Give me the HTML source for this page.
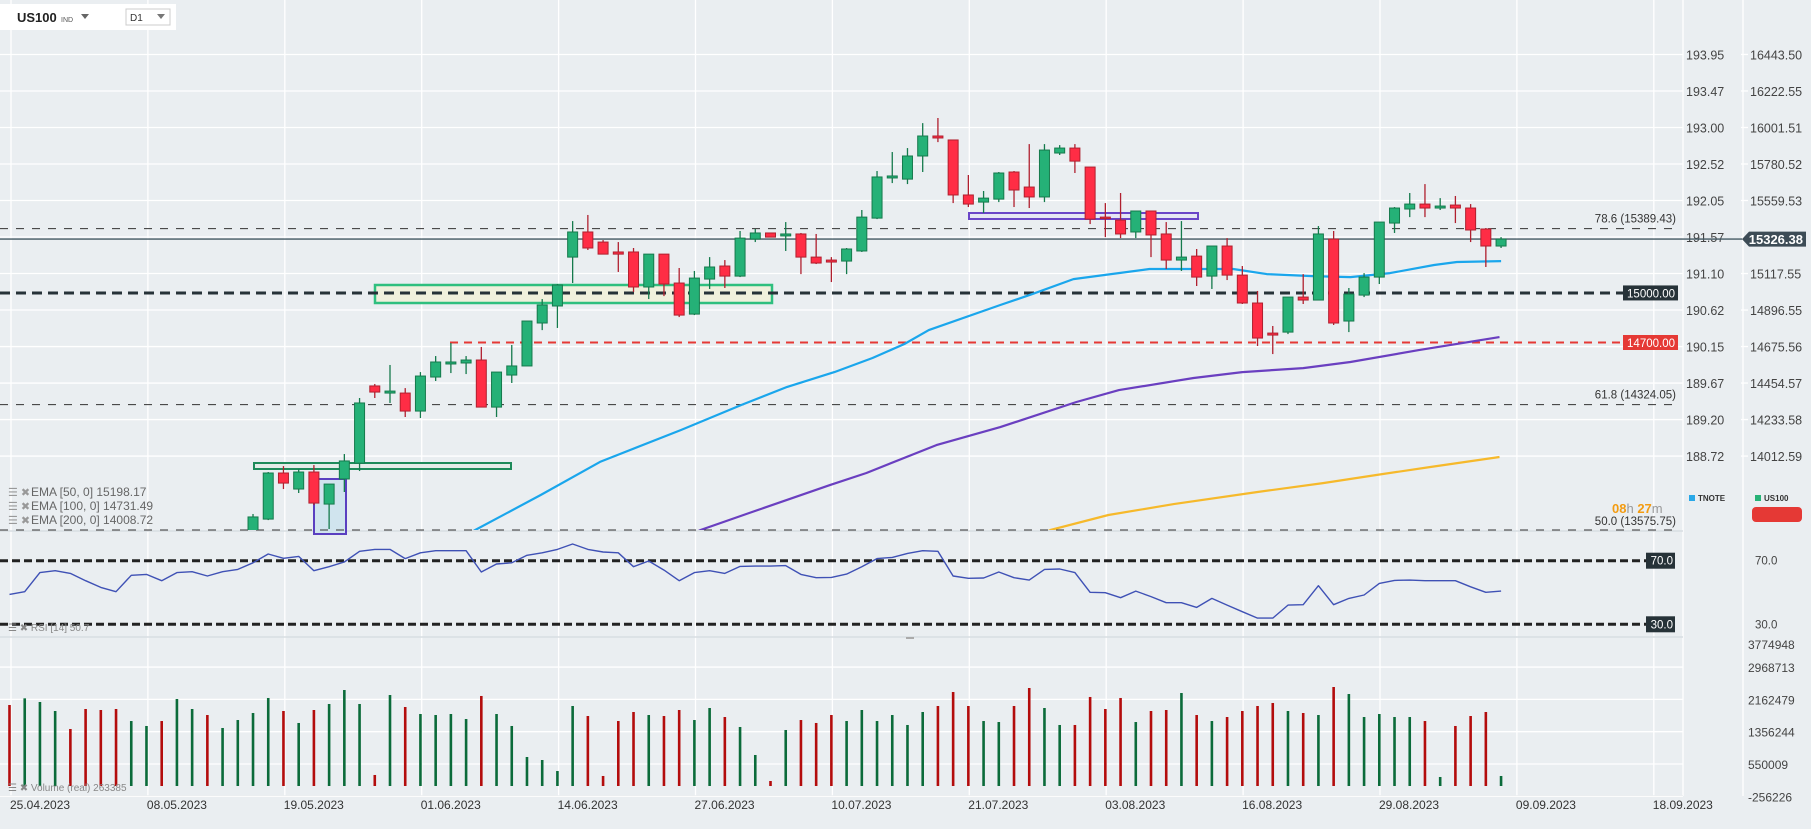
<!DOCTYPE html>
<html><head><meta charset="utf-8"><style>
html,body{margin:0;padding:0;background:#eaeef1;}
svg{display:block;font-family:"Liberation Sans",sans-serif;}
</style></head><body>
<svg id="chart" width="1811" height="829" viewBox="0 0 1811 829">
<rect x="0" y="0" width="1811" height="829" fill="#eaeef1"/>
<defs>
<clipPath id="mainClip"><rect x="0" y="0" width="1683" height="530"/></clipPath>
<clipPath id="rsiClip"><rect x="0" y="532" width="1683" height="104"/></clipPath>
</defs>
<g id="grid"></g>
<g id="levels"></g>
<g id="main" clip-path="url(#mainClip)"></g>
<g id="rsi" clip-path="url(#rsiClip)"></g>
<g id="vol"></g>
<g id="axes"></g>

<!-- header -->
<rect x="0" y="4" width="176" height="26" fill="#ffffff"/>
<text x="17" y="22" font-size="13" font-weight="bold" fill="#222">US100</text>
<text x="61" y="22" font-size="7" fill="#555">IND</text>
<path d="M81 14 L89 14 L85 19 Z" fill="#666"/>
<rect x="126" y="9" width="44" height="16" fill="#fff" stroke="#ccc"/>
<text x="130" y="21" font-size="10" fill="#333">D1</text>
<path d="M157 14 L165 14 L161 19 Z" fill="#777"/>

<!-- EMA legend -->
<g font-size="12" fill="#666">
<text x="8" y="496" fill="#999" font-size="11">☰ ✖</text>
<text x="31" y="496">EMA [50,  0] 15198.17</text>
<text x="8" y="510" fill="#999" font-size="11">☰ ✖</text>
<text x="31" y="510">EMA [100,  0] 14731.49</text>
<text x="8" y="524" fill="#999" font-size="11">☰ ✖</text>
<text x="31" y="524">EMA [200,  0] 14008.72</text>
</g>
<text x="8" y="631" font-size="10" fill="#888">☰ ✖ RSI [14] 50.7</text>
<text x="8" y="791" font-size="10" fill="#888">☰ ✖ Volume (real) 263385</text>

<!-- timer and symbols -->
<text x="1612" y="513" font-size="13"><tspan fill="#f39c12" font-weight="bold">08</tspan><tspan fill="#999">h </tspan><tspan fill="#f39c12" font-weight="bold">27</tspan><tspan fill="#999">m</tspan></text>
<rect x="1689" y="495" width="6" height="6" fill="#29a8e8"/>
<text x="1698" y="501" font-size="8" font-weight="bold" fill="#333">TNOTE</text>
<rect x="1755" y="495" width="6" height="6" fill="#26b276"/>
<text x="1764" y="501" font-size="8" font-weight="bold" fill="#333">US100</text>
<rect x="1752" y="507" width="50" height="15" rx="4" fill="#e53935"/>

<script>
// ---------- data ----------
const firstCandle = 16;
const opens  = [13474,13631,13910,13813,13916,13722,13874,13970,14437,14394,14394,14285,14491,14570,14576,14594,14309,14503,14558,14818,14921,15217,15369,15308,15248,15248,15036,15235,15060,14872,15084,15163,15102,15326,15363,15345,15357,15217,15199,15193,15254,15453,15696,15689,15829,15950,15926,15593,15550,15568,15732,15641,15581,15847,15877,15762,15459,15441,15369,15496,15357,15199,15223,15102,15284,15108,14939,14757,14763,14975,14957,15326,14830,14987,15096,15423,15508,15538,15514,15532,15514,15387,15284];
const highs  = [13662,13916,13952,13934,13958,13843,14025,14364,14449,14564,14424,14521,14618,14697,14618,14673,14521,14685,14830,14963,15054,15435,15472,15320,15308,15272,15235,15235,15151,15133,15217,15199,15375,15387,15363,15429,15363,15357,15217,15272,15502,15738,15853,15877,16028,16059,15926,15714,15617,15732,15738,15901,15901,15895,15901,15762,15544,15605,15496,15496,15429,15435,15266,15284,15332,15163,15012,14800,14975,15114,15405,15375,15030,15120,15429,15520,15605,15659,15574,15587,15538,15393,15338];
const lows   = [13444,13625,13813,13789,13716,13571,13795,13922,14364,14334,14249,14243,14467,14515,14509,14309,14249,14455,14558,14775,14788,15060,15260,15235,15127,15006,14963,14981,14854,14866,15024,15030,15096,15308,15338,15254,15114,15175,15066,15114,15248,15447,15665,15659,15732,15913,15544,15520,15484,15550,15520,15514,15550,15835,15726,15417,15338,15332,15332,15217,15145,15133,15042,15024,15078,14933,14679,14630,14751,14933,14957,14806,14763,14975,15054,15363,15459,15459,15502,15423,15308,15157,15272];
const closes = [13644,13910,13849,13916,13728,13843,13983,14334,14400,14406,14285,14497,14582,14582,14594,14309,14521,14558,14830,14927,15048,15369,15272,15235,15235,15036,15235,15054,14866,15090,15157,15102,15332,15363,15338,15357,15217,15181,15187,15266,15459,15702,15708,15829,15950,15938,15593,15538,15574,15726,15623,15581,15865,15877,15798,15447,15453,15357,15496,15351,15199,15217,15096,15284,15108,14939,14727,14745,14975,14957,15357,14818,14993,15096,15429,15514,15538,15514,15526,15514,15381,15284,15326];

const ema50Idx = [29,30.6,34.9,38.8,44.1,48.1,51.1,54.2,56.7,58.8,60.4,65.1,67.2,69.9,74.9,77,80.4,82.6,85.6,88.1,90.7,93.6,95.1,98];
const ema50Val = [13480,13565,13777,13977,14170,14322,14431,14521,14606,14691,14775,14927,14993,15084,15145,15145,15145,15114,15102,15096,15120,15169,15187,15193];
const ema100Idx = [44,45.4,48.6,53.9,56.3,60.9,65.1,70.1,72.9,77.8,81,85,88.1,92.6,97.9];
const ema100Val = [13500,13565,13668,13837,13910,14079,14188,14340,14412,14485,14521,14545,14582,14654,14733];
const ema200Idx = [67,68.4,72.2,76.5,82,86.3,89.8,93.3,97.9];
const ema200Val = [13500,13565,13656,13722,13795,13849,13898,13946,14007];

const rsiVals = [48.8,50.5,62.5,63.7,62.0,57.4,53.2,50.5,60.8,61.4,57.4,62.5,63.1,60.4,63.1,64.5,68.7,74.2,71.5,72.7,63.7,66.2,69.2,75.9,77.1,77.1,71.3,75.0,76.3,76.3,76.3,62.9,67.9,68.7,73.4,75.0,77.1,80.5,77.1,75.5,75.0,66.2,69.8,64.1,57.4,62.5,63.7,62.0,66.4,66.6,66.6,66.9,61.4,59.3,59.5,61.6,66.2,71.3,72.1,74.6,76.3,75.9,60.4,58.9,59.1,62.9,59.3,57.8,64.5,64.8,62.5,50.1,49.9,46.7,50.9,47.4,43.6,43.6,40.6,46.3,42.1,37.9,33.9,33.9,42.1,42.3,54.3,42.3,46.3,48.4,55.7,57.6,57.8,57.4,57.4,57.4,53.6,50.1,50.9];

const volK = [2022,2188,2097,1872,1423,1922,1897,1922,1622,1498,1622,2172,1922,1772,1448,1647,1822,2197,1872,1573,1897,2047,2396,2047,275,2271,1972,1797,1772,1797,1672,2247,1797,1498,724,649,374,1997,1747,250,1622,1847,1772,1747,1897,1647,1947,1722,1473,774,125,1398,1647,1573,1772,1622,1897,1622,1772,1523,1847,1997,2346,1997,1622,1597,1997,2446,1947,1523,1523,2222,1922,2197,1597,1872,1897,2321,1772,1622,1722,1872,1997,2072,1872,1822,1772,2471,2296,1722,1797,1722,1722,1622,225,1498,1747,1847,250];
const volUp = [0,1,1,1,0,0,0,0,1,1,0,1,1,0,1,1,1,1,0,1,0,1,1,1,0,1,0,1,1,1,1,0,1,1,1,1,1,1,0,0,0,0,1,0,0,1,1,0,1,1,0,1,0,0,0,1,1,1,1,1,1,0,0,0,1,1,0,0,1,1,0,0,0,0,1,0,0,1,0,1,0,0,0,0,1,0,1,0,1,1,1,1,1,0,1,0,0,0,1];

const priceTicks = [16443.50,16222.55,16001.51,15780.52,15559.53,15338.54,15117.55,14896.55,14675.56,14454.57,14233.58,14012.59];
const leftTicks = ["193.95","193.47","193.00","192.52","192.05","191.57","191.10","190.62","190.15","189.67","189.20","188.72"];
const volTicks = [2968713,2162479,1356244,550009,-256226];
const dateLabels = ["25.04.2023","08.05.2023","19.05.2023","01.06.2023","14.06.2023","27.06.2023","10.07.2023","21.07.2023","03.08.2023","16.08.2023","29.08.2023","09.09.2023","18.09.2023"];

// ---------- scales ----------
const xOf = i => 9.5 + 15.22 * i;
const yP = p => 164 + (15780.52 - p) * 0.1652;
const yR = r => 560.7 + (70 - r) * 1.59;
const yV = k => 786 - k * 1000 * 32.3 / 806235;

const NS = "http://www.w3.org/2000/svg";
function mk(tag, parent, attrs) {
  const e = document.createElementNS(NS, tag);
  for (const k in attrs) e.setAttribute(k, attrs[k]);
  parent.appendChild(e);
  return e;
}
const G = id => document.getElementById(id);

// ---------- grid ----------
const grid = G("grid");
for (let k = 0; k < 13; k++) {
  const gx = 11 + 136.9 * k;
  const l = mk("line", grid, {x1: gx, y1: 0, x2: gx, y2: 796, stroke: "#ffffff", "stroke-width": 1.3});
  
  
  const t = mk("text", grid, {x: gx - 1, y: 809, "font-size": 12, fill: "#333"});
  t.textContent = dateLabels[k];
  
  
}
priceTicks.forEach((p, k) => {
  const y = yP(p);
  const l = mk("line", grid, {x1: 0, y1: y, x2: 1683, y2: y, stroke: "#ffffff", "stroke-width": 1.3});
  
  
  const tk = mk("line", grid, {x1: 1741, y1: y, x2: 1748, y2: y, stroke: "#ffffff", "stroke-width": 1.3});
  
  
  const t1 = mk("text", grid, {x: 1686, y: y + 5, "font-size": 12.5, fill: "#444"});
  t1.textContent = leftTicks[k];
  
  
  if (k !== 5) {
    const t2 = mk("text", grid, {x: 1750, y: y + 5, "font-size": 12.5, fill: "#444"});
    t2.textContent = p.toFixed(2);
    
    
  }
});
[[1683,0,1683,796],[1743,0,1743,796]].forEach(c => {
  const l = mk("line", grid, {x1: c[0], y1: c[1], x2: c[2], y2: c[3], stroke: "#ffffff", "stroke-width": 1.3});
  
  
});
// pane borders
[531, 637, 796].forEach(y => {
  const l = mk("line", grid, {x1: 0, y1: y, x2: 1683, y2: y, stroke: "#d8dde2", "stroke-width": 1.5});
  
  
});
volTicks.forEach(v => {
  const y = yV(v / 1000);
  const l = mk("line", grid, {x1: 0, y1: y, x2: 1683, y2: y, stroke: "#ffffff", "stroke-width": 1.3});
  
  
  const t = mk("text", grid, {x: 1748, y: y + 5, "font-size": 12, fill: "#444"});
  t.textContent = String(v);
  
  
});
{
  const t = mk("text", grid, {x: 1748, y: 649, "font-size": 12, fill: "#444"});
  t.textContent = "3774948";
  
  
}

// ---------- levels ----------
const lv = G("levels");
function hline(y, x1, x2, color, w, dash, name) {
  const l = mk("line", lv, {x1: x1, y1: y, x2: x2, y2: y, stroke: color, "stroke-width": w});
  if (dash) l.setAttribute("stroke-dasharray", dash);
  
  
  return l;
}
function label(x, y, txt, name, color, anchor) {
  const t = mk("text", lv, {x: x, y: y, "font-size": 11.5, fill: color || "#333", "text-anchor": anchor || "end"});
  t.textContent = txt;
  
  
}
// rectangles
{
  const r1 = mk("rect", lv, {x: 375, y: 285, width: 397, height: 18, fill: "#f0f0dc", stroke: "#2fbf7f", "stroke-width": 2.5});
  
  
  const r2 = mk("rect", lv, {x: 254, y: 463, width: 257, height: 6, fill: "#e4ece8", stroke: "#1e8a5a", "stroke-width": 2});
  
  
  const r3 = mk("rect", lv, {x: 314, y: 479, width: 32, height: 55, fill: "#d0e4ee", stroke: "#5a3fc0", "stroke-width": 2});
  
  
  const r4 = mk("rect", lv, {x: 969, y: 213, width: 229, height: 6, fill: "#e6e6f4", stroke: "#6a45c8", "stroke-width": 2});
  
  
}
hline(yP(15389.43), 0, 1676, "#333", 1, "8 8", "fib-78-6-line");
label(1676, yP(15389.43) - 6, "78.6 (15389.43)", "fib-78-6-label");
hline(yP(14324.05), 0, 1676, "#333", 1, "8 8", "fib-61-8-line");
label(1676, yP(14324.05) - 6, "61.8 (14324.05)", "fib-61-8-label");
hline(530, 0, 1676, "#333", 1, "8 8", "fib-50-line");
label(1676, 525, "50.0 (13575.75)", "fib-50-label");
hline(yP(15000), 0, 1623, "#263238", 3, "10 6", "level-15000-line");
hline(yP(14700), 450, 1623, "#e53935", 2, "8 6", "level-14700-line");
{
  const b1 = mk("rect", lv, {x: 1623, y: yP(15000) - 7.5, width: 55, height: 15, fill: "#263238"});
  
  
  label(1675, yP(15000) + 4.5, "15000.00", "level-15000-label", "#fff");
  const b2 = mk("rect", lv, {x: 1623, y: yP(14700) - 7.5, width: 55, height: 15, fill: "#e53935"});
  
  
  label(1675, yP(14700) + 4.5, "14700.00", "level-14700-label", "#fff");
}
// current price
{
  const cp = closes[closes.length - 1];
  const y = yP(cp);
  hline(y, 0, 1742, "#455a64", 1.4, null, "current-price-line");
  const p = mk("path", lv, {d: `M1742 ${y} L1749 ${y-7.5} L1806 ${y-7.5} L1806 ${y+7.5} L1749 ${y+7.5} Z`, fill: "#3d4c56"});
  
  
  const t = mk("text", lv, {x: 1803, y: y + 5, "font-size": 13, "font-weight": "bold", fill: "#fff", "text-anchor": "end"});
  t.textContent = cp.toFixed(2).replace(/^(\d+)\.\d+$/, "$1") === "15326" ? "15326.38" : cp.toFixed(2);
  
  
}
// RSI levels
[[70, "70.0"], [30, "30.0"]].forEach(r => {
  const y = yR(r[0]);
  hline(y, 0, 1646, "#222", 3, "8 4", "rsi-level-line");
  const b = mk("rect", lv, {x: 1646, y: y - 8, width: 29, height: 16, fill: "#263238"});
  
  
  label(1673, y + 4, r[1], "rsi-level-badge-label", "#fff");
  label(1755, y + 4, r[1], "rsi-axis-label", "#444", "start");
});
{
  const h1 = mk("rect", lv, {x: 906, y: 637, width: 8, height: 2, fill: "#aaa"});
  
  
}

// ---------- candles ----------
const main = G("main");
function line(parent, idx, vals, yf, color, w, name) {
  const d = idx.map((ix, k) => (k ? "L" : "M") + xOf(ix).toFixed(1) + " " + yf(vals[k]).toFixed(1)).join(" ");
  const p = mk("path", parent, {d: d, fill: "none", stroke: color, "stroke-width": w, "stroke-linejoin": "round"});
  
  
}
line(main, ema50Idx, ema50Val, yP, "#1aa6ec", 2.2, "ema50-line");
line(main, ema100Idx, ema100Val, yP, "#6a3fc0", 2.2, "ema100-line");
line(main, ema200Idx, ema200Val, yP, "#f6b92b", 2.2, "ema200-line");
opens.forEach((o, k) => {
  const i = firstCandle + k;
  const x = xOf(i), c = closes[k], h = highs[k], l = lows[k];
  const up = c >= o;
  const stroke = up ? "#157a4c" : "#b0202f";
  const fill = up ? "#25b177" : "#ff2d45";
  const w = mk("line", main, {x1: x, y1: yP(h), x2: x, y2: yP(l), stroke: stroke, "stroke-width": 1.3});
  
  
  const top = yP(Math.max(o, c)), bot = yP(Math.min(o, c));
  const b = mk("rect", main, {x: x - 5, y: top, width: 10, height: Math.max(bot - top, 1.5), fill: fill, stroke: stroke, "stroke-width": 1});
  
  
});

// ---------- RSI ----------
line(G("rsi"), rsiVals.map((v, i) => i), rsiVals, yR, "#3f51b5", 1.4, "rsi-line");

// ---------- volume ----------
const vol = G("vol");
volK.forEach((v, i) => {
  const y = yV(v);
  const b = mk("rect", vol, {x: xOf(i) - 1.3, y: y, width: 2.6, height: 786 - y, fill: volUp[i] ? "#0b6b3a" : "#b30c0c"});
  
  
});
</script>
</svg>
</body></html>
